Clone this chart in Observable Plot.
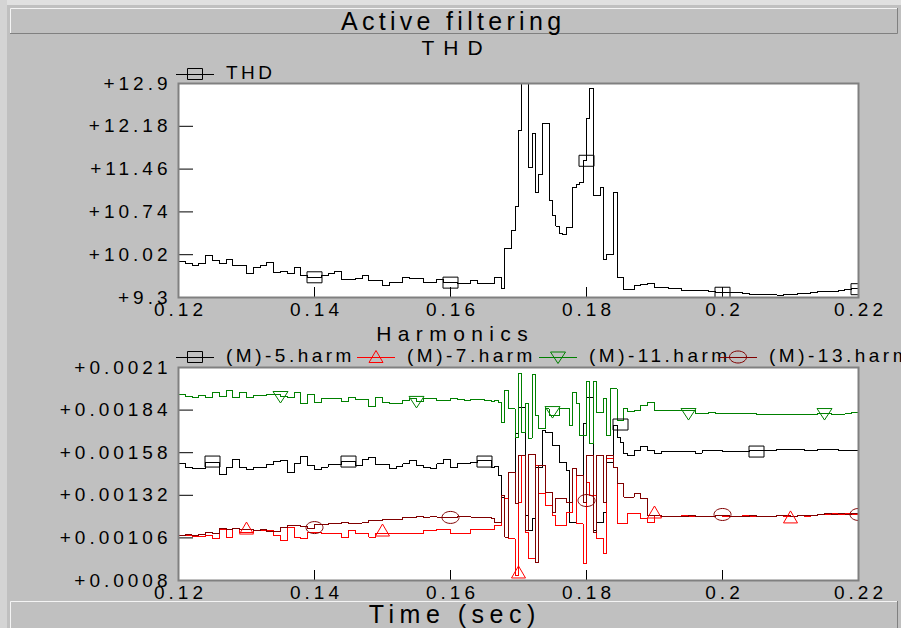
<!DOCTYPE html>
<html><head><meta charset="utf-8">
<script src="https://cdn.jsdelivr.net/npm/d3@7"></script>
<script src="https://cdn.jsdelivr.net/npm/@observablehq/plot@0.6"></script>
<style>
html,body{margin:0;padding:0;}
body{width:901px;height:628px;background:#c0c0c0;position:relative;overflow:hidden;}
#topChart,#botChart{position:absolute;left:0;}
#topChart{top:60px;}
#botChart{top:340px;}
#overlay{position:absolute;left:0;top:0;pointer-events:none;}
</style></head><body>
<div id="topChart"></div>
<div id="botChart"></div>
<script>
// ---------------- DATA ----------------
const time = [
0.120,0.121,0.122,0.123,0.124,0.125,0.126,0.127,0.128,0.129,
0.130,0.131,0.132,0.133,0.134,0.135,0.136,0.137,0.138,0.139,
0.140,0.141,0.142,0.143,0.144,0.145,0.146,0.147,0.148,0.149,
0.150,0.151,0.152,0.153,0.154,0.155,0.156,0.157,0.158,0.159,
0.160,0.161,0.162,0.163,0.164,0.165,0.166,
0.1665,0.1670,0.1675,0.1680,0.1685,0.1690,0.1695,0.1700,0.1705,0.1710,
0.1715,0.1720,0.1725,0.1730,0.1735,0.1740,0.1745,0.1750,0.1755,0.1760,
0.1765,0.1770,0.1775,0.1780,0.1785,0.1790,0.1795,0.1800,0.1805,0.1810,
0.1815,0.1820,0.1825,0.1830,0.1835,0.1840,0.1845,0.1850,0.1855,0.1860,
0.187,0.188,0.189,0.190,0.191,0.192,0.193,0.194,0.195,0.196,
0.197,0.198,0.199,0.200,0.201,0.202,0.203,0.204,0.205,0.206,
0.207,0.208,0.209,0.210,0.211,0.212,0.213,0.214,0.215,0.216,
0.217,0.218,0.219,0.220];

const thd = [
9.91,9.87,9.84,9.87,10.00,9.92,9.87,9.94,9.84,9.84,
9.70,9.80,9.84,9.89,9.72,9.74,9.70,9.80,9.67,9.64,
9.64,9.67,9.70,9.74,9.60,9.60,9.62,9.67,9.59,9.59,
9.50,9.55,9.55,9.64,9.62,9.62,9.55,9.55,9.60,9.55,
9.55,9.53,9.53,9.59,9.53,9.53,9.53,
9.64,9.64,9.45,10.12,10.12,10.43,10.83,12.11,12.9,12.9,
11.49,12.06,11.07,11.37,12.23,12.23,10.93,10.68,10.5,10.38,
10.36,10.48,10.48,11.15,11.2,11.23,11.6,12.31,12.82,11.02,
11.02,11.15,9.94,10.02,10.02,11.07,9.64,9.64,9.43,9.43,
9.50,9.52,9.54,9.47,9.47,9.45,9.45,9.42,9.42,9.41,
9.42,9.40,9.38,9.38,9.38,9.38,9.37,9.35,9.35,9.35,
9.35,9.34,9.35,9.35,9.37,9.36,9.39,9.40,9.40,9.40,
9.41,9.44,9.45,9.45];

const harm5 = [
0.001512,0.001488,0.001482,0.001482,0.001522,0.001522,0.001447,0.001492,0.001537,0.001492,
0.001476,0.001488,0.001492,0.001508,0.001528,0.001533,0.00146,0.001512,0.001557,0.001502,
0.001476,0.001492,0.001508,0.001508,0.001528,0.001528,0.001502,0.001537,0.001549,0.001508,
0.001508,0.001482,0.001496,0.001512,0.001533,0.001502,0.001492,0.001482,0.001512,0.001537,
0.001492,0.001512,0.001516,0.001522,0.001533,0.001533,0.001492,
0.001498,0.001441,0.001309,0.001065,0.001457,0.001457,0.001695,0.001858,0.001858,0.001197,
0.001105,0.001176,0.001492,0.001492,0.001716,0.001705,0.001705,0.001624,0.001624,0.001522,
0.001522,0.001471,0.001156,0.001156,0.001441,0.001441,0.001756,0.001919,0.001919,0.001105,
0.001156,0.001156,0.001217,0.001522,0.001522,0.001746,0.00167,0.001644,0.001573,0.001563,
0.001594,0.001618,0.001594,0.001577,0.00159,0.00159,0.00159,0.001588,0.00159,0.001577,
0.001594,0.001594,0.001594,0.001585,0.001585,0.001585,0.001585,0.001594,0.001594,0.001594,
0.001594,0.001598,0.001598,0.001598,0.001598,0.001594,0.001594,0.001598,0.001598,0.001598,
0.001594,0.001594,0.001594,0.001594];

const harm7 = [
0.001075,0.001075,0.001069,0.001069,0.001075,0.001054,0.00111,0.001065,0.001116,0.001095,
0.001095,0.001105,0.001105,0.001105,0.001075,0.001044,0.001126,0.001065,0.001054,0.001095,
0.001095,0.001085,0.001085,0.001085,0.001065,0.001105,0.001085,0.001085,0.001065,0.001089,
0.001089,0.001085,0.001085,0.001085,0.001089,0.001089,0.001105,0.001105,0.00111,0.00111,
0.001089,0.001089,0.001089,0.00111,0.00111,0.00111,0.00111,
0.001136,0.001136,0.001319,0.001299,0.001054,0.001054,0.000831,0.001278,0.001563,0.001095,
0.000932,0.000932,0.001502,0.001329,0.001329,0.001258,0.001258,0.001197,0.001136,0.001136,
0.001136,0.001217,0.001217,0.001482,0.001146,0.001146,0.000902,0.0014,0.001319,0.001319,
0.001054,0.001054,0.000963,0.001543,0.001543,0.001488,0.001146,0.001146,0.001146,0.001207,
0.001207,0.001177,0.001156,0.001197,0.001193,0.00119,0.001193,0.001195,0.001193,0.00119,
0.001193,0.001193,0.001195,0.001193,0.00119,0.001193,0.001195,0.001193,0.001193,0.00119,
0.001193,0.001195,0.001193,0.001193,0.001195,0.001193,0.001195,0.001205,0.001205,0.001207,
0.001205,0.001207,0.001205,0.001207];

const harm11 = [
0.001935,0.001923,0.001915,0.00193,0.001919,0.00195,0.001923,0.00196,0.001915,0.00195,
0.001915,0.001929,0.001929,0.001935,0.001935,0.001923,0.001915,0.00195,0.001878,0.001935,
0.001888,0.001909,0.001909,0.001909,0.001895,0.001919,0.001903,0.001903,0.001862,0.001919,
0.001888,0.001882,0.001882,0.001899,0.001909,0.001895,0.001909,0.001909,0.001899,0.001899,
0.001909,0.001903,0.001899,0.001903,0.001903,0.001899,0.001895,
0.001899,0.001884,0.001766,0.00196,0.001848,0.001848,0.001675,0.002061,0.001705,0.001878,
0.001669,0.002055,0.001807,0.001726,0.001726,0.001848,0.001807,0.001807,0.001807,0.001852,
0.001852,0.001852,0.001746,0.001949,0.001878,0.001685,0.001685,0.002015,0.001634,0.002015,
0.001827,0.001827,0.001909,0.001685,0.00197,0.00197,0.001777,0.001777,0.001852,0.001831,
0.001838,0.001868,0.001888,0.001838,0.001838,0.001838,0.001838,0.001838,0.001838,0.001821,
0.001821,0.001827,0.001817,0.001817,0.001817,0.001817,0.001817,0.001817,0.001811,0.001811,
0.001811,0.001811,0.001813,0.001815,0.001815,0.001813,0.001815,0.001817,0.001817,0.001813,
0.001813,0.001817,0.001827,0.001827];

const harm13 = [
0.001075,0.001079,0.001075,0.001079,0.001095,0.001089,0.001116,0.00111,0.001116,0.00111,
0.00111,0.001105,0.00111,0.001101,0.001101,0.001126,0.001136,0.001136,0.00113,0.001116,
0.001142,0.001142,0.001146,0.001146,0.001156,0.00115,0.00115,0.001156,0.001166,0.001166,
0.00117,0.00117,0.001175,0.001187,0.001183,0.001191,0.001187,0.001191,0.001187,0.001187,
0.001187,0.001191,0.001191,0.001187,0.001187,0.001183,0.00118,
0.001156,0.001156,0.001319,0.001065,0.001461,0.001461,0.001268,0.001563,0.001563,0.001105,
0.001567,0.001567,0.000912,0.001502,0.001502,0.001339,0.001339,0.001217,0.001299,0.001299,
0.001299,0.001278,0.001278,0.001482,0.001441,0.001441,0.001278,0.001563,0.001563,0.001095,
0.001563,0.001563,0.001278,0.001563,0.001563,0.001492,0.00139,0.00139,0.001309,0.001309,
0.00133,0.001299,0.001197,0.001195,0.001193,0.001193,0.00119,0.001193,0.001195,0.001193,
0.00119,0.001193,0.001195,0.001197,0.001193,0.001193,0.00119,0.001195,0.001193,0.001193,
0.001193,0.001195,0.001197,0.001193,0.001195,0.001197,0.001195,0.001203,0.001207,0.001205,
0.001207,0.001205,0.001207,0.001205];

// marker positions (time, value)
const thdMarkT = [0.14,0.16,0.18,0.20,0.22];
const thdMarkV = [9.64,9.55,11.6,9.38,9.44];
const h5MarkT = [0.125,0.145,0.165,0.185,0.205];
const h5MarkV = [0.001526,0.001526,0.001526,0.001752,0.001587];
const h7MarkT = [0.13,0.15,0.17,0.19,0.21];
const h7MarkV = [0.001117,0.001105,0.000849,0.001215,0.001185];
const h11MarkT = [0.135,0.155,0.175,0.195,0.215];
const h11MarkV = [0.001923,0.001893,0.001831,0.001819,0.001819];
const h13MarkT = [0.14,0.16,0.18,0.20,0.22];
const h13MarkV = [0.001123,0.001185,0.001288,0.001203,0.001203];

// ticks
const xTicks = [0.12,0.14,0.16,0.18,0.20,0.22];
const xTickLabels = ["0.12","0.14","0.16","0.18","0.2","0.22"];
const thdTicks = [9.3,10.02,10.74,11.46,12.18,12.9];
const thdTickLabels = ["+9.3","+10.02","+10.74","+11.46","+12.18","+12.9"];
const harmTicks = [0.0008,0.00106,0.00132,0.00158,0.00184,0.0021];
const harmTickLabels = ["+0.0008","+0.00106","+0.00132","+0.00158","+0.00184","+0.0021"];

const seriesNames = ["(M)-5.harm","(M)-7.harm","(M)-11.harm","(M)-13.harm"];
const seriesColors = ["#000000","#ff0000","#008000","#800000"];

// ---------------- SYMBOLS ----------------
const boxSym = {draw(c){ c.rect(-7.5,-5.5,15,11); }};
const triUpSym = {draw(c){ c.moveTo(0,-6.5); c.lineTo(7,5.5); c.lineTo(-7,5.5); c.closePath(); }};
const triDownSym = {draw(c){ c.moveTo(0,6.5); c.lineTo(7.5,-5); c.lineTo(-7.5,-5); c.closePath(); }};
const ellSym = {draw(c){ const rx=8.5, ry=6, k=0.5523;
  c.moveTo(rx,0);
  c.bezierCurveTo(rx,ry*k,rx*k,ry,0,ry);
  c.bezierCurveTo(-rx*k,ry,-rx,ry*k,-rx,0);
  c.bezierCurveTo(-rx,-ry*k,-rx*k,-ry,0,-ry);
  c.bezierCurveTo(rx*k,-ry,rx,-ry*k,rx,0);
  c.closePath(); }};
const seriesSyms = [boxSym, triUpSym, triDownSym, ellSym];

const FONT = '"Liberation Sans", Arial, Helvetica, sans-serif';
const toRows = (ts, vs) => ts.map((t,i)=>({t, v: vs[i]}));
const xLab = new Map(xTicks.map((d,i)=>[d,xTickLabels[i]]));
const thdLab = new Map(thdTicks.map((d,i)=>[d,thdTickLabels[i]]));
const harmLab = new Map(harmTicks.map((d,i)=>[d,harmTickLabels[i]]));

const W = 901, ML = 178, MR = 43;
const plotW = W - ML - MR;

function panel({height, mt, mb, yDomain, yTicks, yLab, series, markers}) {
  const plotH = height - mt - mb;
  return Plot.plot({
    width: W, height, marginLeft: ML, marginRight: MR, marginTop: mt, marginBottom: mb,
    x: {domain: [0.12, 0.22]},
    y: {domain: yDomain},
    style: {background: "transparent", fontFamily: FONT, fontSize: "19px", color: "black", letterSpacing: "4px", overflow: "visible"},
    marks: [
      Plot.frame({fill: "white", stroke: null}),
      Plot.tickX(xTicks.slice(1,-1), {x: d=>d, insetTop: plotH - 10, stroke: "black"}),
      Plot.tickY(yTicks.slice(1,-1), {y: d=>d, insetRight: plotW - 15, stroke: "black"}),
      ...series.map(s => Plot.line(s.rows, {x: "t", y: "v", curve: "step-after", stroke: s.color, strokeWidth: 1, shapeRendering: "crispEdges", clip: true})),
      ...markers.map(m => Plot.dot(m.rows, {x: "t", y: "v", symbol: m.sym, r: 5, fill: "none", stroke: m.color, strokeWidth: 1, clip: true})),
      Plot.axisX(xTicks, {anchor: "bottom", tickSize: 0, tickPadding: 5, label: null, tickFormat: d => xLab.get(d), dx: 2}),
      Plot.axisY(yTicks, {anchor: "left", tickSize: 0, tickPadding: 7, label: null, tickFormat: d => yLab.get(d)}),
      Plot.frame({stroke: "#808080", strokeWidth: 2})
    ]
  });
}

const topPlot = panel({
  height: 265, mt: 23, mb: 28, yDomain: [9.3, 12.9], yTicks: thdTicks, yLab: thdLab,
  series: [{rows: toRows(time, thd), color: "#000"}],
  markers: [{rows: toRows(thdMarkT, thdMarkV), sym: boxSym, color: "#000"}]
});
document.getElementById("topChart").appendChild(topPlot);

const harmVals = [harm5, harm7, harm11, harm13];
const markT = [h5MarkT, h7MarkT, h11MarkT, h13MarkT];
const markV = [h5MarkV, h7MarkV, h11MarkV, h13MarkV];
const botPlot = panel({
  height: 265, mt: 27, mb: 25, yDomain: [0.0008, 0.0021], yTicks: harmTicks, yLab: harmLab,
  series: harmVals.map((vs,i)=>({rows: toRows(time, vs), color: seriesColors[i]})),
  markers: markT.map((ts,i)=>({rows: toRows(ts, markV[i]), sym: seriesSyms[i], color: seriesColors[i]}))
});
document.getElementById("botChart").appendChild(botPlot);

// ---------------- CHROME: bars, titles, legends ----------------
const svg = d3.select("body").append("svg").attr("id","overlay")
  .attr("width", W).attr("height", 628)
  .style("font-family", FONT);

svg.append("rect").attr("x",0).attr("y",0).attr("width",W).attr("height",5).attr("fill","#e0e0e0");
svg.append("rect").attr("x",0).attr("y",0).attr("width",7).attr("height",628).attr("fill","#d4d4d4");

function bar(y, h) {
  const g = svg.append("g");
  g.append("rect").attr("x",10).attr("y",y).attr("width",887).attr("height",h).attr("fill","#c0c0c0");
  g.append("path").attr("d",`M10.5,${y+h}V${y+0.5}H897`).attr("fill","none").attr("stroke","#f4f4f4");
  g.append("path").attr("d",`M897.5,${y}V${y+h-0.5}H10`).attr("fill","none").attr("stroke","#808080");
}
bar(8, 26);
bar(601, 40);

function label(text, x, y, size, spacing, anchor="middle") {
  svg.append("text").attr("x", anchor==="middle" ? x + spacing/2 : x).attr("y", y)
    .attr("text-anchor", anchor).attr("font-size", size)
    .style("letter-spacing", spacing + "px").attr("fill","black").text(text);
}
label("Active filtering", 451, 30, 25, 4.3);
label("THD", 452, 55, 21, 9);
label("Harmonics", 452, 341, 21, 6.4);
label("Time (sec)", 452, 623, 25, 5.5);

function legendItem(x, y, name, color, sym) {
  svg.append("line").attr("x1",x).attr("x2",x+38).attr("y1",y+0.5).attr("y2",y+0.5).attr("stroke",color);
  svg.append("path").attr("d", d3.symbol(sym)()).attr("transform",`translate(${x+19},${y})`)
    .attr("fill","none").attr("stroke",color);
  label(name, x + 50, y + 5, 19, 3.5, "start");
}
legendItem(176, 74, "THD", "#000", boxSym);
const legX = [176, 357, 539, 719];
seriesNames.forEach((n,i)=> legendItem(legX[i], 357, n, seriesColors[i], seriesSyms[i]));
</script>
</body></html>
